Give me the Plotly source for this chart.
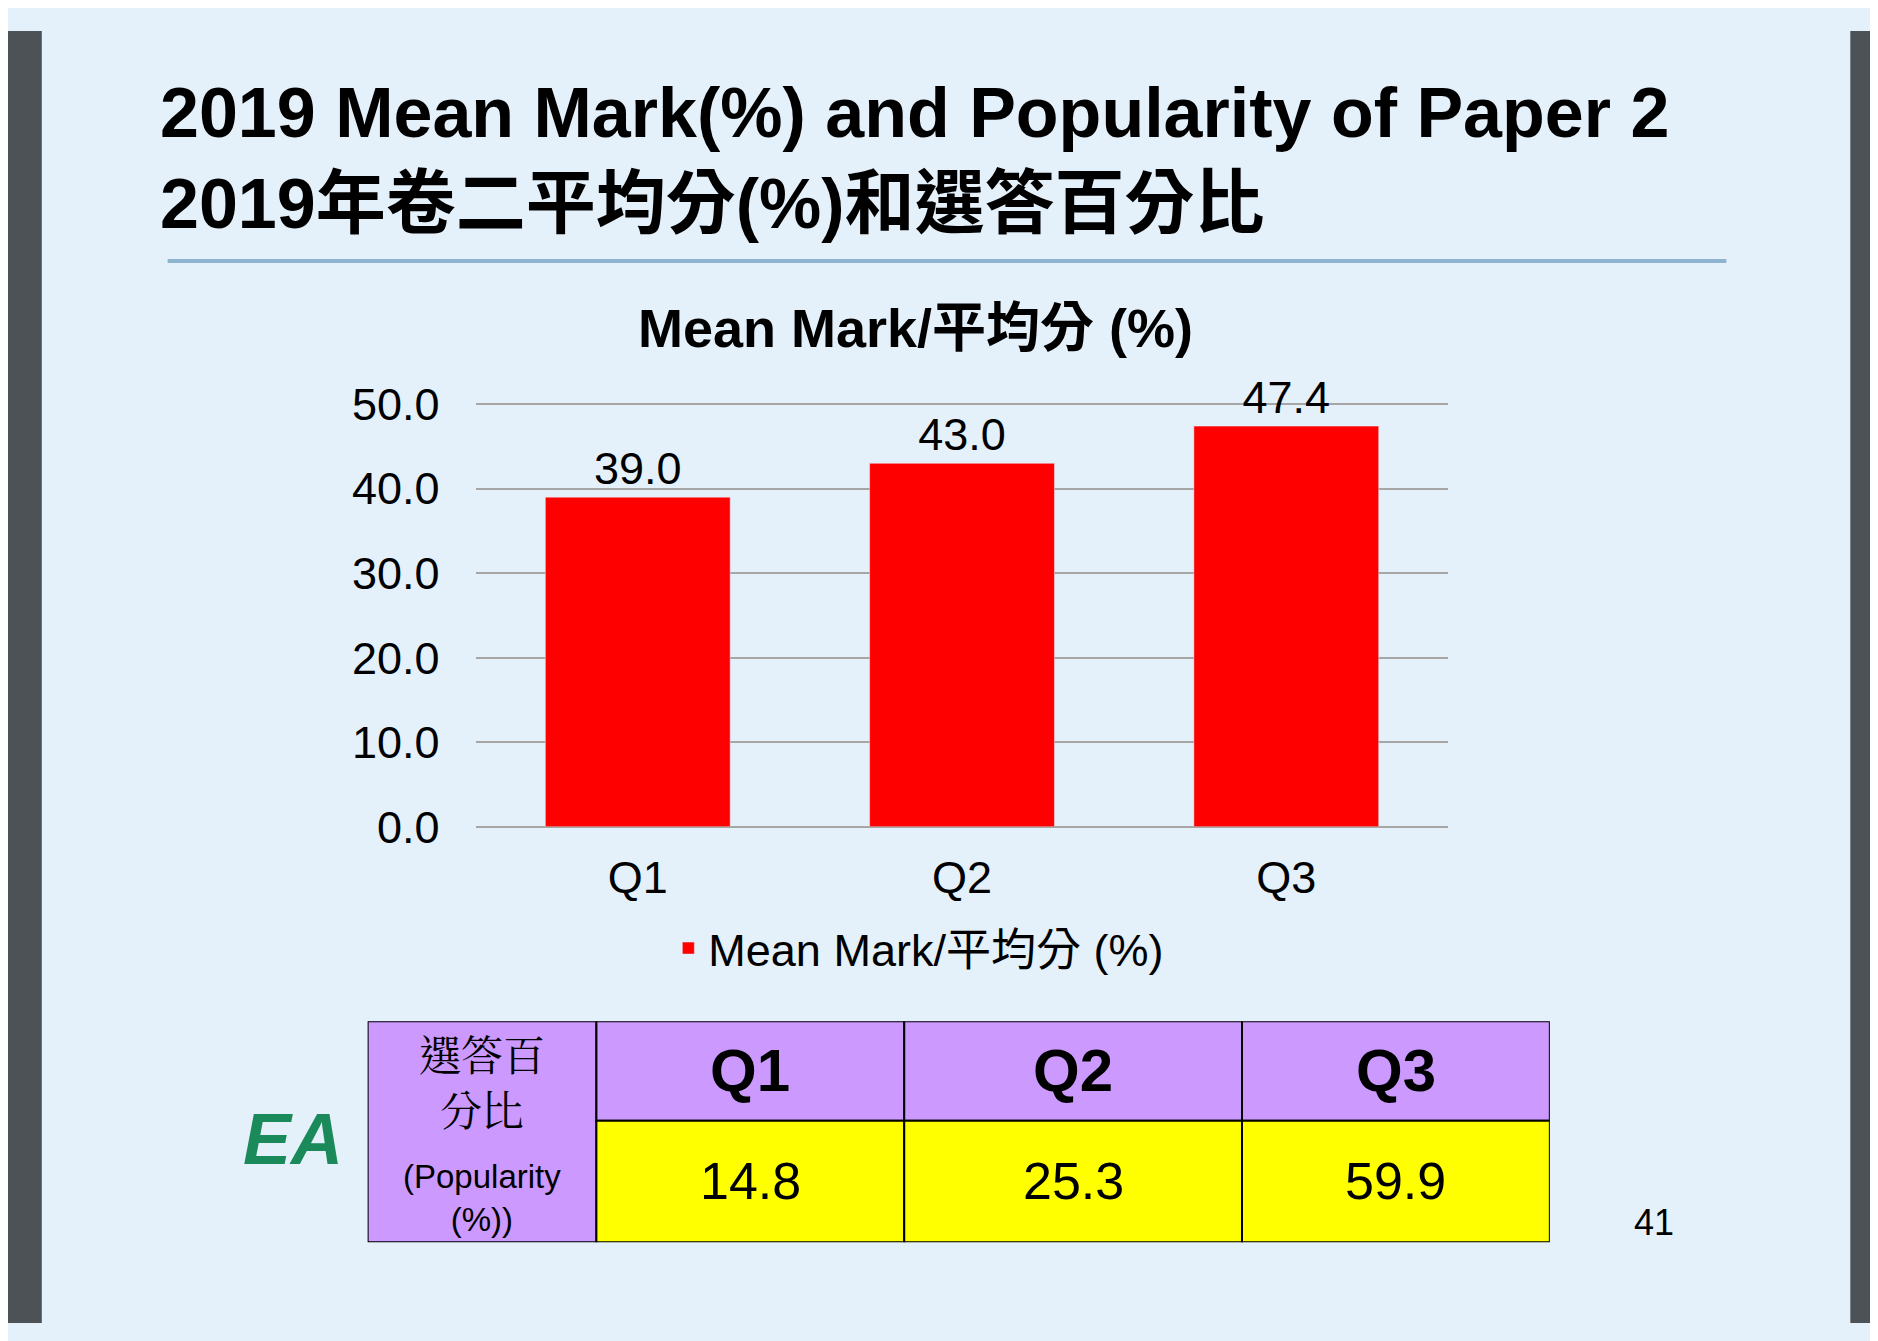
import plotly.graph_objects as go

# Data
questions = ["Q1", "Q2", "Q3"]
mean_mark = [39.0, 43.0, 47.4]
popularity = [14.8, 25.3, 59.9]
y_ticks = [0, 10, 20, 30, 40, 50]

FONT = "Liberation Sans, Arial, Noto Sans CJK TC"
W, H = 1878, 1341

fig = go.Figure()

fig.add_trace(go.Bar(
    x=questions, y=mean_mark, name="Mean Mark/平均分 (%)",
    marker_color="#ff0000",
    text=["%.1f" % v for v in mean_mark], textposition="outside",
    textfont=dict(size=45, color="#000000"), cliponaxis=False,
))
# invisible trace so the table axes exist
fig.add_trace(go.Scatter(x=[0, 1], y=[0, 1], xaxis="x2", yaxis="y2", mode="markers",
                         marker=dict(opacity=0), showlegend=False, hoverinfo="skip"))

# side borders
fig.add_shape(type="rect", xref="paper", yref="paper", x0=0, x1=0.018, y0=0, y1=1,
              fillcolor="#4d5256", line_width=0, layer="below")
fig.add_shape(type="rect", xref="paper", yref="paper", x0=0.981, x1=1, y0=0, y1=1,
              fillcolor="#4d5256", line_width=0, layer="below")
# title underline
fig.add_shape(type="line", xref="paper", yref="paper", x0=0.085, x1=0.915, y0=0.822, y1=0.822,
              line=dict(color="#8fb4d0", width=4))

fig.add_annotation(text="<b>2019 Mean Mark(%) and Popularity of Paper 2<br>2019年卷二平均分(%)和選答百分比</b>",
                   xref="paper", yref="paper", x=0.080, y=0.968, xanchor="left", yanchor="top",
                   align="left", showarrow=False, font=dict(family=FONT, size=70, color="#000"))
fig.add_annotation(text="<b>Mean Mark/平均分 (%)</b>", xref="paper", yref="paper",
                   x=0.483, y=0.795, showarrow=False, font=dict(family=FONT, size=54, color="#000"))
fig.add_annotation(text="41", xref="paper", yref="paper", x=0.888, y=0.06, showarrow=False,
                   font=dict(family=FONT, size=36, color="#000"))

# table
col_edges = [0, 191, 448, 730, 987]
purple, yellow = "#cc99ff", "#ffff00"
total = col_edges[-1]
c1 = col_edges[1] / total
fig.add_shape(type="rect", xref="x2", yref="y2", x0=0, x1=c1, y0=0, y1=1,
              fillcolor=purple, line=dict(color="#000", width=2))
fig.add_annotation(text="選答百<br>分比", xref="x2", yref="y2", x=c1 / 2, y=0.73,
                   showarrow=False, font=dict(family="Noto Serif CJK TC, Noto Sans CJK TC", size=42, color="#000"))
fig.add_annotation(text="(Popularity<br>(%))", xref="x2", yref="y2", x=c1 / 2, y=0.2,
                   showarrow=False, font=dict(family=FONT, size=33, color="#000"))
for i, (q, p) in enumerate(zip(questions, popularity)):
    a, b = col_edges[i + 1] / total, col_edges[i + 2] / total
    fig.add_shape(type="rect", xref="x2", yref="y2", x0=a, x1=b, y0=0.55, y1=1,
                  fillcolor=purple, line=dict(color="#000", width=2))
    fig.add_shape(type="rect", xref="x2", yref="y2", x0=a, x1=b, y0=0, y1=0.55,
                  fillcolor=yellow, line=dict(color="#000", width=2))
    fig.add_annotation(text="<b>%s</b>" % q, xref="x2", yref="y2", x=(a + b) / 2, y=0.775,
                       showarrow=False, font=dict(family=FONT, size=60, color="#000"))
    fig.add_annotation(text="%.1f" % p, xref="x2", yref="y2", x=(a + b) / 2, y=0.275,
                       showarrow=False, font=dict(family=FONT, size=52, color="#000"))

# logo placeholder
fig.add_annotation(text="<b><i>EA</i></b>", xref="paper", yref="paper", x=0.124, y=0.11,
                   showarrow=False, font=dict(family=FONT, size=72, color="#1a8a5a"))

fig.update_layout(
    width=W, height=H, margin=dict(l=0, r=0, t=0, b=0),
    paper_bgcolor="#e4f0fa", plot_bgcolor="rgba(0,0,0,0)",
    font=dict(family=FONT, color="#000"),
    bargap=0.43,
    showlegend=True,
    legend=dict(orientation="h", x=0.485, xanchor="center", y=0.29, yanchor="middle",
                font=dict(size=45), bgcolor="rgba(0,0,0,0)"),
    xaxis=dict(domain=[0.249, 0.767], tickfont=dict(size=45), showline=False, ticks="",
               ticklabelstandoff=20),
    yaxis=dict(domain=[0.384, 0.7125], range=[0, 50.2], tickvals=y_ticks,
               ticktext=["%.1f" % v for v in y_ticks], tickfont=dict(size=45),
               gridcolor="#a6a6a6", gridwidth=1.5, zeroline=True, zerolinecolor="#a6a6a6",
               zerolinewidth=1.5, ticks="", ticklabelstandoff=35),
    xaxis2=dict(domain=[0.1915, 0.821], range=[0, 1], visible=False, anchor="y2"),
    yaxis2=dict(domain=[0.0625, 0.2336], range=[0, 1], visible=False, anchor="x2"),
)

fig.write_html("out.html")
